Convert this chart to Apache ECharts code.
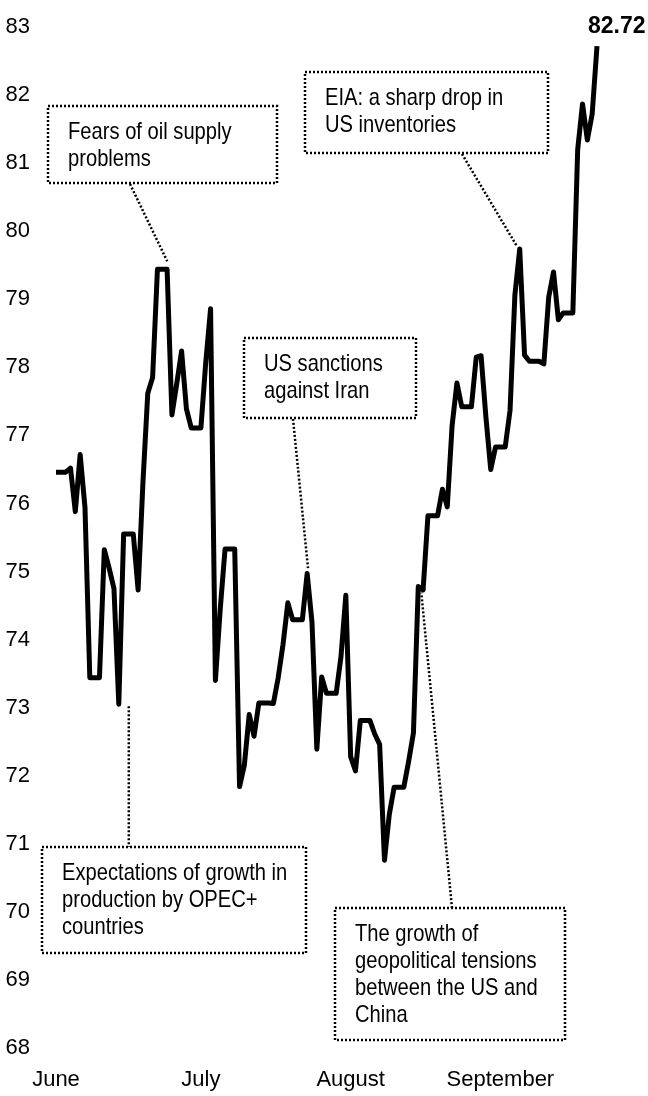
<!DOCTYPE html>
<html><head><meta charset="utf-8">
<script src="https://cdn.jsdelivr.net/npm/echarts@6/dist/echarts.min.js"></script>
<style>html,body{margin:0;padding:0;background:#fff}#c{width:648px;height:1096px}</style>
</head><body><div id="c"></div>
<script>
// Daily closes (weekend days carry the Friday value), first day 2018-06-08
const startDate = '2018-06-08';
const junePrices = [76.46,76.46,76.46,76.52,75.88,76.72,75.94,73.44,73.44,73.44,75.32,75.05,74.75,73.05,75.55,75.55,75.55,74.73,76.31,77.62,77.85,79.44,79.44];
const julyPrices = [79.44,77.30,77.76,78.24,77.39,77.11,77.11,77.11,78.07,78.86,73.40,74.45,75.33,75.33,75.33,71.84,72.16,72.90,72.58,73.07,73.07,73.07,73.06,73.44,73.93,74.54,74.29,74.29,74.29,74.97,74.25];
const augustPrices = [72.39,73.45,73.21,73.21,73.21,73.75,74.65,72.28,72.07,72.81,72.81,72.81,72.61,72.46,70.76,71.43,71.83,71.83,71.83,72.21,72.63,74.78,74.73,75.82,75.82,75.82,76.21,75.95,77.14,77.77,77.42];
const septemberPrices = [77.42,77.42,78.15,78.17,77.27,76.50,76.83,76.83,76.83,77.37,79.06,79.74,78.18,78.09,78.09,78.09,78.05,79.03,79.40,78.70,78.80,78.80,78.80,81.20,81.87,81.34,81.72,82.72];
const monthLabels = {'06':'June','07':'July','08':'August','09':'September'};
const labelDay = '08';
const yMin = 68, yMax = 83, yStep = 1;

const notes = [
  {text:'Fears of oil supply\nproblems', date:'2018-06-30'},
  {text:'Expectations of growth in\nproduction by OPEC+\ncountries', date:'2018-06-21'},
  {text:'US sanctions\nagainst Iran', date:'2018-07-30'},
  {text:'EIA: a sharp drop in\nUS inventories', date:'2018-09-12'},
  {text:'The growth of\ngeopolitical tensions\nbetween the US and\nChina', date:'2018-08-22'}
];

const prices = [].concat(junePrices, julyPrices, augustPrices, septemberPrices);
const dates = [];
const d0 = new Date(startDate + 'T00:00:00Z');
for (let i = 0; i < prices.length; i++) {
  dates.push(new Date(d0.getTime() + i * 86400000).toISOString().slice(0, 10));
}

const FONT = '"Liberation Sans Narrow", "Arial Narrow", "Liberation Sans", Arial, sans-serif';
const chart = echarts.init(document.getElementById('c'), null, {renderer: 'canvas'});
chart.setOption({
  animation: false,
  backgroundColor: '#fff',
  grid: {left: 56, right: 51, top: 27, bottom: 48, containLabel: false},
  xAxis: {
    type: 'category', data: dates, boundaryGap: false,
    axisLine: {show: false}, axisTick: {show: false}, splitLine: {show: false},
    axisLabel: {
      interval: (i, v) => v.slice(8, 10) === labelDay,
      formatter: v => monthLabels[v.slice(5, 7)],
      color: '#000', fontSize: 22, fontFamily: FONT, margin: 21
    }
  },
  yAxis: {
    type: 'value', min: yMin, max: yMax, interval: yStep,
    axisLine: {show: false}, axisTick: {show: false}, splitLine: {show: false},
    axisLabel: {color: '#000', fontSize: 22, fontFamily: FONT, margin: 26}
  },
  series: [{
    type: 'line', data: prices, showSymbol: false, symbol: 'none',
    lineStyle: {color: '#000', width: 5, join: 'round'},
    endLabel: {show: true, formatter: p => p.value.toFixed(2), color: '#000',
      fontSize: 23, fontWeight: 'bold', fontFamily: FONT, offset: [-17, -19]}
  }]
});

// annotation boxes (layout) and leader lines anchored to data points
const boxes = [
  {rect: [48, 106, 229, 77], from: [130, 184], off: [5, -8]},
  {rect: [42, 847, 264, 106], vertical: true, off: [10, 2]},
  {rect: [244, 338, 172, 80], from: [293, 419], off: [1, -4]},
  {rect: [305, 72, 243, 81], from: [462, 154], off: [-3, -3]},
  {rect: [335, 908, 230, 132], from: [452, 908], off: [3, 6]}
];
const elements = [];
notes.forEach((n, k) => {
  const b = boxes[k];
  const idx = dates.indexOf(n.date);
  const p = chart.convertToPixel({seriesIndex: 0}, [idx, prices[idx]]);
  const ax = p[0] + b.off[0], ay = p[1] + b.off[1];
  const r = b.rect;
  elements.push({type: 'rect', shape: {x: r[0], y: r[1], width: r[2], height: r[3]},
    style: {fill: 'none', stroke: '#000', lineWidth: 2.5, lineDash: [2, 2]}, z: 10});
  elements.push({type: 'text', x: r[0] + 20, y: r[1] + 13, scaleX: 0.84,
    style: {text: n.text, fill: '#000', fontSize: 24, fontFamily: FONT, lineHeight: 27, verticalAlign: 'top', align: 'left'}, z: 11});
  let line;
  if (b.vertical) line = [ax, ay, ax, r[1]];
  else line = [b.from[0], b.from[1], ax, ay];
  elements.push({type: 'line', shape: {x1: line[0], y1: line[1], x2: line[2], y2: line[3]},
    style: {stroke: '#000', lineWidth: 2.5, lineDash: [2, 2]}, z: 10});
});
chart.setOption({graphic: {elements: elements}});
</script>
</body></html>
